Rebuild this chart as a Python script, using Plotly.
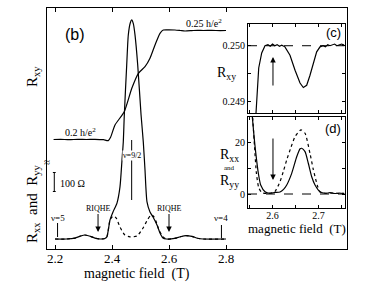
import plotly.graph_objects as go

W, H = 389, 284


def px(x):
    return x / W


def py(y):
    return 1 - y / H


# ---------------- main panel (b) data ----------------
b_field = [2.200, 2.240, 2.270, 2.290, 2.305, 2.320, 2.340, 2.360, 2.375, 2.382,
           2.393, 2.4035, 2.4175, 2.428, 2.4351, 2.4396, 2.4432, 2.4516, 2.4572,
           2.4640, 2.4691, 2.4750, 2.4807, 2.4902, 2.5020, 2.5098, 2.5158, 2.5228,
           2.5333, 2.5439, 2.5579, 2.5684, 2.5789, 2.590, 2.620, 2.640, 2.660,
           2.680, 2.700, 2.720, 2.800]
rxx = [0, 0, 5, 16, 21, 16, 5, 0, 3, 11,
       100, 142, 189, 274, 416, 511, 653, 916, 1074,
       1137, 1153, 1132, 1074, 916, 653, 511, 363, 195,
       142, 116, 74, 32, 5, 0, 3, 12, 18,
       14, 4, 0, 0]

b_field_yy = [2.200, 2.240, 2.270, 2.290, 2.305, 2.320, 2.340, 2.360, 2.375, 2.382,
              2.393, 2.400, 2.407, 2.415, 2.428, 2.445, 2.463, 2.488, 2.509, 2.526,
              2.537, 2.545, 2.554, 2.565, 2.579, 2.590, 2.620, 2.640, 2.660, 2.680,
              2.700, 2.720, 2.800]
ryy = [0, 0, 5, 16, 21, 16, 5, 0, 3, 11,
       100, 116, 121, 110, 63, 21, 11, 16, 58, 105,
       126, 121, 95, 47, 11, 0, 3, 12, 18, 14,
       4, 0, 0]

b_field_xy = [2.195, 2.220, 2.250, 2.280, 2.310, 2.340, 2.370, 2.387, 2.395, 2.4105,
              2.443, 2.4695, 2.4926, 2.5158, 2.5333, 2.5509, 2.5684, 2.580, 2.600,
              2.621, 2.640, 2.656, 2.680, 2.700, 2.720, 2.750, 2.780, 2.800]
rxy = [0.2000, 0.2001, 0.1999, 0.2001, 0.2000, 0.2001, 0.1999, 0.1995, 0.2010, 0.20665,
       0.21275, 0.22349, 0.23037, 0.23340, 0.23725, 0.24335, 0.24872, 0.25023, 0.25030,
       0.25023, 0.25000, 0.24977, 0.24995, 0.25010, 0.25000, 0.25005, 0.24995, 0.25000]

main_ticks = [2.2, 2.4, 2.6, 2.8]
main_ticktext = ["2.2", "2.4", "2.6", "2.8"]

# ---------------- inset (c) data ----------------
c_field = [2.5620, 2.5641, 2.5700, 2.5765, 2.5837, 2.5900, 2.5950, 2.6000, 2.6050,
           2.6100, 2.6150, 2.6200, 2.6270, 2.6380, 2.6490, 2.6598, 2.6670, 2.6743,
           2.6815, 2.6887, 2.6960, 2.7033, 2.7100, 2.7150, 2.7200, 2.7250, 2.7300,
           2.7350, 2.7400, 2.7450, 2.7500, 2.7560]
c_rxy = [0.24860, 0.24879, 0.24960, 0.24987, 0.25000, 0.25002, 0.24999, 0.25003, 0.25000,
         0.25002, 0.24999, 0.25001, 0.24998, 0.24983, 0.24956, 0.24933, 0.24925, 0.24929,
         0.24947, 0.24969, 0.24989, 0.24998, 0.25000, 0.24998, 0.25002, 0.25000, 0.25001,
         0.25003, 0.25000, 0.25002, 0.25003, 0.25001]

# ---------------- inset (d) data ----------------
d_field = [2.5550, 2.5600, 2.5635, 2.5692, 2.5743, 2.5837, 2.5946, 2.6050, 2.6163,
           2.6240, 2.6309, 2.6417, 2.6526, 2.6600, 2.6635, 2.6707, 2.6778, 2.6852,
           2.6924, 2.7033, 2.7150, 2.7250, 2.7350, 2.7450, 2.7560]
d_rxx = [32, 22, 16, 8, 3.5, 0.9, 0.3, 0.6, 0.8,
         1.8, 3.5, 8, 14.4, 17.5, 17.7, 16.4, 11.9, 6.7,
         3.5, 0.9, 0.3, 0.5, 0.2, 0.4, 0.2]

d_field_yy = [2.5560, 2.5610, 2.5650, 2.5700, 2.5770, 2.5900, 2.6000, 2.6055, 2.6163,
              2.6240, 2.6309, 2.6400, 2.6490, 2.6620, 2.6707, 2.6815, 2.6880, 2.6924,
              2.6980, 2.7033, 2.7150, 2.7300, 2.7450, 2.7560]
d_ryy = [32, 18, 8, 2.5, 0.5, 0.2, 0.5, 1.0, 4.8,
         9, 13.2, 18, 22.2, 24.8, 23.5, 15.7, 10, 6.7,
         3, 0.8, 0.3, 0.4, 0.2, 0.3]

inset_ticks = [2.55, 2.6, 2.65, 2.7, 2.75]
inset_ticktext = ["", "2.6", "", "2.7", ""]

SERIF = "Liberation Serif"
SANS = "Liberation Sans"

solid = dict(color="black", width=1.2, shape="spline", smoothing=0.6)
dotted = dict(color="black", width=1.2, dash="dot", shape="spline", smoothing=0.6)

fig = go.Figure()
fig.add_trace(go.Scatter(x=b_field, y=rxx, mode="lines", line=solid, xaxis="x", yaxis="y"))
fig.add_trace(go.Scatter(x=b_field_yy, y=ryy, mode="lines", line=dotted, xaxis="x", yaxis="y"))
fig.add_trace(go.Scatter(x=b_field_xy, y=rxy, mode="lines", line=solid, xaxis="x", yaxis="y2"))
fig.add_trace(go.Scatter(x=c_field, y=c_rxy, mode="lines", line=dict(color="black", width=1.2),
                         xaxis="x3", yaxis="y3"))
fig.add_trace(go.Scatter(x=d_field, y=d_rxx, mode="lines", line=solid, xaxis="x4", yaxis="y4"))
fig.add_trace(go.Scatter(x=d_field_yy, y=d_ryy, mode="lines", line=dotted, xaxis="x4", yaxis="y4"))

ax_common = dict(showline=True, linecolor="black", linewidth=1, mirror="ticks",
                 ticks="inside", tickcolor="black", showgrid=False, zeroline=False,
                 automargin=False)

fig.update_layout(
    width=W, height=H,
    margin=dict(l=0, r=0, t=0, b=0, pad=0),
    paper_bgcolor="white", plot_bgcolor="white",
    showlegend=False,
    font=dict(family=SERIF, color="black"),
    xaxis=dict(**ax_common, domain=[px(47), px(347)], range=[2.17193, 3.22456], anchor="y",
               tickvals=main_ticks, ticktext=main_ticktext, ticklen=4,
               ticklabelstandoff=-3,
               tickfont=dict(family=SERIF, size=13, color="black")),
    yaxis=dict(showline=True, linecolor="black", linewidth=1, mirror=True, ticks="",
               showticklabels=False, showgrid=False, zeroline=False, automargin=False,
               domain=[py(249), py(8)], range=[-52.6, 1215.8], anchor="x"),
    yaxis2=dict(overlaying="y", range=[0.14977, 0.26032], visible=False, anchor="x",
                automargin=False),
    xaxis3=dict(**ax_common, domain=[px(248), px(344.5)], range=[2.5467, 2.7565], anchor="y3",
                tickvals=inset_ticks, showticklabels=False, ticklen=3),
    yaxis3=dict(**ax_common, domain=[py(113), py(24)], range=[0.248792, 0.250390], anchor="x3",
                tickvals=[0.249, 0.2495, 0.250], ticktext=["0.249", "", "0.250"], ticklen=3,
                tickfont=dict(family=SERIF, size=10, color="black")),
    xaxis4=dict(**ax_common, domain=[px(248), px(344.5)], range=[2.5467, 2.7565], anchor="y4",
                tickvals=inset_ticks, ticktext=inset_ticktext, ticklen=3,
                ticklabelstandoff=-2,
                tickfont=dict(family=SERIF, size=10, color="black")),
    yaxis4=dict(**ax_common, domain=[py(207.5), py(116.5)], range=[-5.22, 30], anchor="x4",
                tickvals=[0, 10, 20], ticktext=["0", "", "20"], ticklen=3,
                tickfont=dict(family=SERIF, size=10, color="black")),
)


def ptxt(x, y, text, size, family=SERIF, xanchor="center", **kw):
    return dict(x=px(x), y=py(y), xref="paper", yref="paper", text=text, showarrow=False,
                xanchor=xanchor, yanchor="middle",
                font=dict(family=family, size=size, color="black"), **kw)


def ohm(ypix):
    return (239 - ypix) * 100 / 19


annotations = [
    ptxt(75, 35, "(b)", 16, SANS),
    ptxt(333, 33, "(c)", 13, SANS),
    ptxt(333, 128, "(d)", 13, SANS),
    ptxt(33, 77, "R<sub>xy</sub>", 15, textangle=-90),
    ptxt(33, 204, "R<sub>xx</sub>  and  R<sub>yy</sub>", 15, textangle=-90),
    ptxt(80, 132, "0.2 h/e<sup>2</sup>", 10),
    ptxt(204, 23, "0.25 h/e<sup>2</sup>", 10),
    ptxt(58, 183, "100 Ω", 10, xanchor="left"),
    ptxt(47, 162, "≈", 11),
    ptxt(137, 274, "magnetic field  (T)", 14),
    ptxt(297, 228, "magnetic field  (T)", 13),
    ptxt(226, 73, "R<sub>xy</sub>", 14),
    ptxt(229, 155, "R<sub>xx</sub>", 14),
    ptxt(229, 168, "and", 7),
    ptxt(229, 181, "R<sub>yy</sub>", 14),
    dict(x=2.209, y=ohm(218), xref="x", yref="y", text="ν=5", showarrow=False,
         xanchor="center", yanchor="middle",
         font=dict(family=SERIF, size=9, color="black")),
    dict(x=2.784, y=ohm(218), xref="x", yref="y", text="ν=4", showarrow=False,
         xanchor="center", yanchor="middle",
         font=dict(family=SERIF, size=9, color="black")),
    dict(x=2.469, y=ohm(155), xref="x", yref="y", text="ν=9/2", showarrow=False,
         xanchor="center", yanchor="middle",
         bgcolor="white", borderpad=0, font=dict(family=SERIF, size=8, color="black")),
]
for xb in (2.351, 2.600):
    annotations.append(dict(x=xb, y=ohm(232), xref="x", yref="y", text="RIQHE",
                            showarrow=True, arrowhead=2, arrowsize=1.1, arrowwidth=1,
                            arrowcolor="black", ax=0, ay=-24, standoff=0,
                            font=dict(family=SERIF, size=8, color="black")))
annotations.append(dict(x=2.601, y=0.250 - (57 - 45.7) / 55.7 * 0.001, xref="x3", yref="y3",
                        text="", showarrow=True, arrowhead=2, arrowsize=1.1, arrowwidth=1,
                        arrowcolor="black", ax=0, ay=30))
annotations.append(dict(x=2.601, y=(194 - 180) / 2.585, xref="x4", yref="y4",
                        text="", showarrow=True, arrowhead=2, arrowsize=1.1, arrowwidth=1,
                        arrowcolor="black", ax=0, ay=-43))

line_k = dict(color="black", width=1)
shapes = [
    dict(type="line", xref="x", yref="y", x0=2.209, x1=2.209, y0=ohm(223), y1=ohm(237), line=line_k),
    dict(type="line", xref="x", yref="y", x0=2.784, x1=2.784, y0=ohm(225), y1=ohm(238), line=line_k),
    dict(type="line", xref="x", yref="y", x0=2.469, x1=2.469, y0=ohm(140), y1=ohm(200), line=line_k),
    dict(type="line", xref="x", yref="y", x0=2.1975, x1=2.1975, y0=ohm(191.5), y1=ohm(172.5), line=line_k),
    dict(type="line", xref="x", yref="y", x0=2.1925, x1=2.2025, y0=ohm(191.5), y1=ohm(191.5), line=line_k),
    dict(type="line", xref="x", yref="y", x0=2.1925, x1=2.2025, y0=ohm(172.5), y1=ohm(172.5), line=line_k),
    dict(type="line", xref="x3 domain", yref="y3", x0=0, x1=1, y0=0.250, y1=0.250,
         line=dict(color="black", width=1, dash="dash")),
    dict(type="line", xref="x4 domain", yref="y4", x0=0, x1=1, y0=0, y1=0,
         line=dict(color="black", width=1, dash="dash")),
]

fig.update_layout(annotations=annotations, shapes=shapes)
fig.write_html(
    "out.html",
    config={"displayModeBar": False},
    post_script="document.body.style.margin='0';document.body.style.overflow='hidden';",
)
